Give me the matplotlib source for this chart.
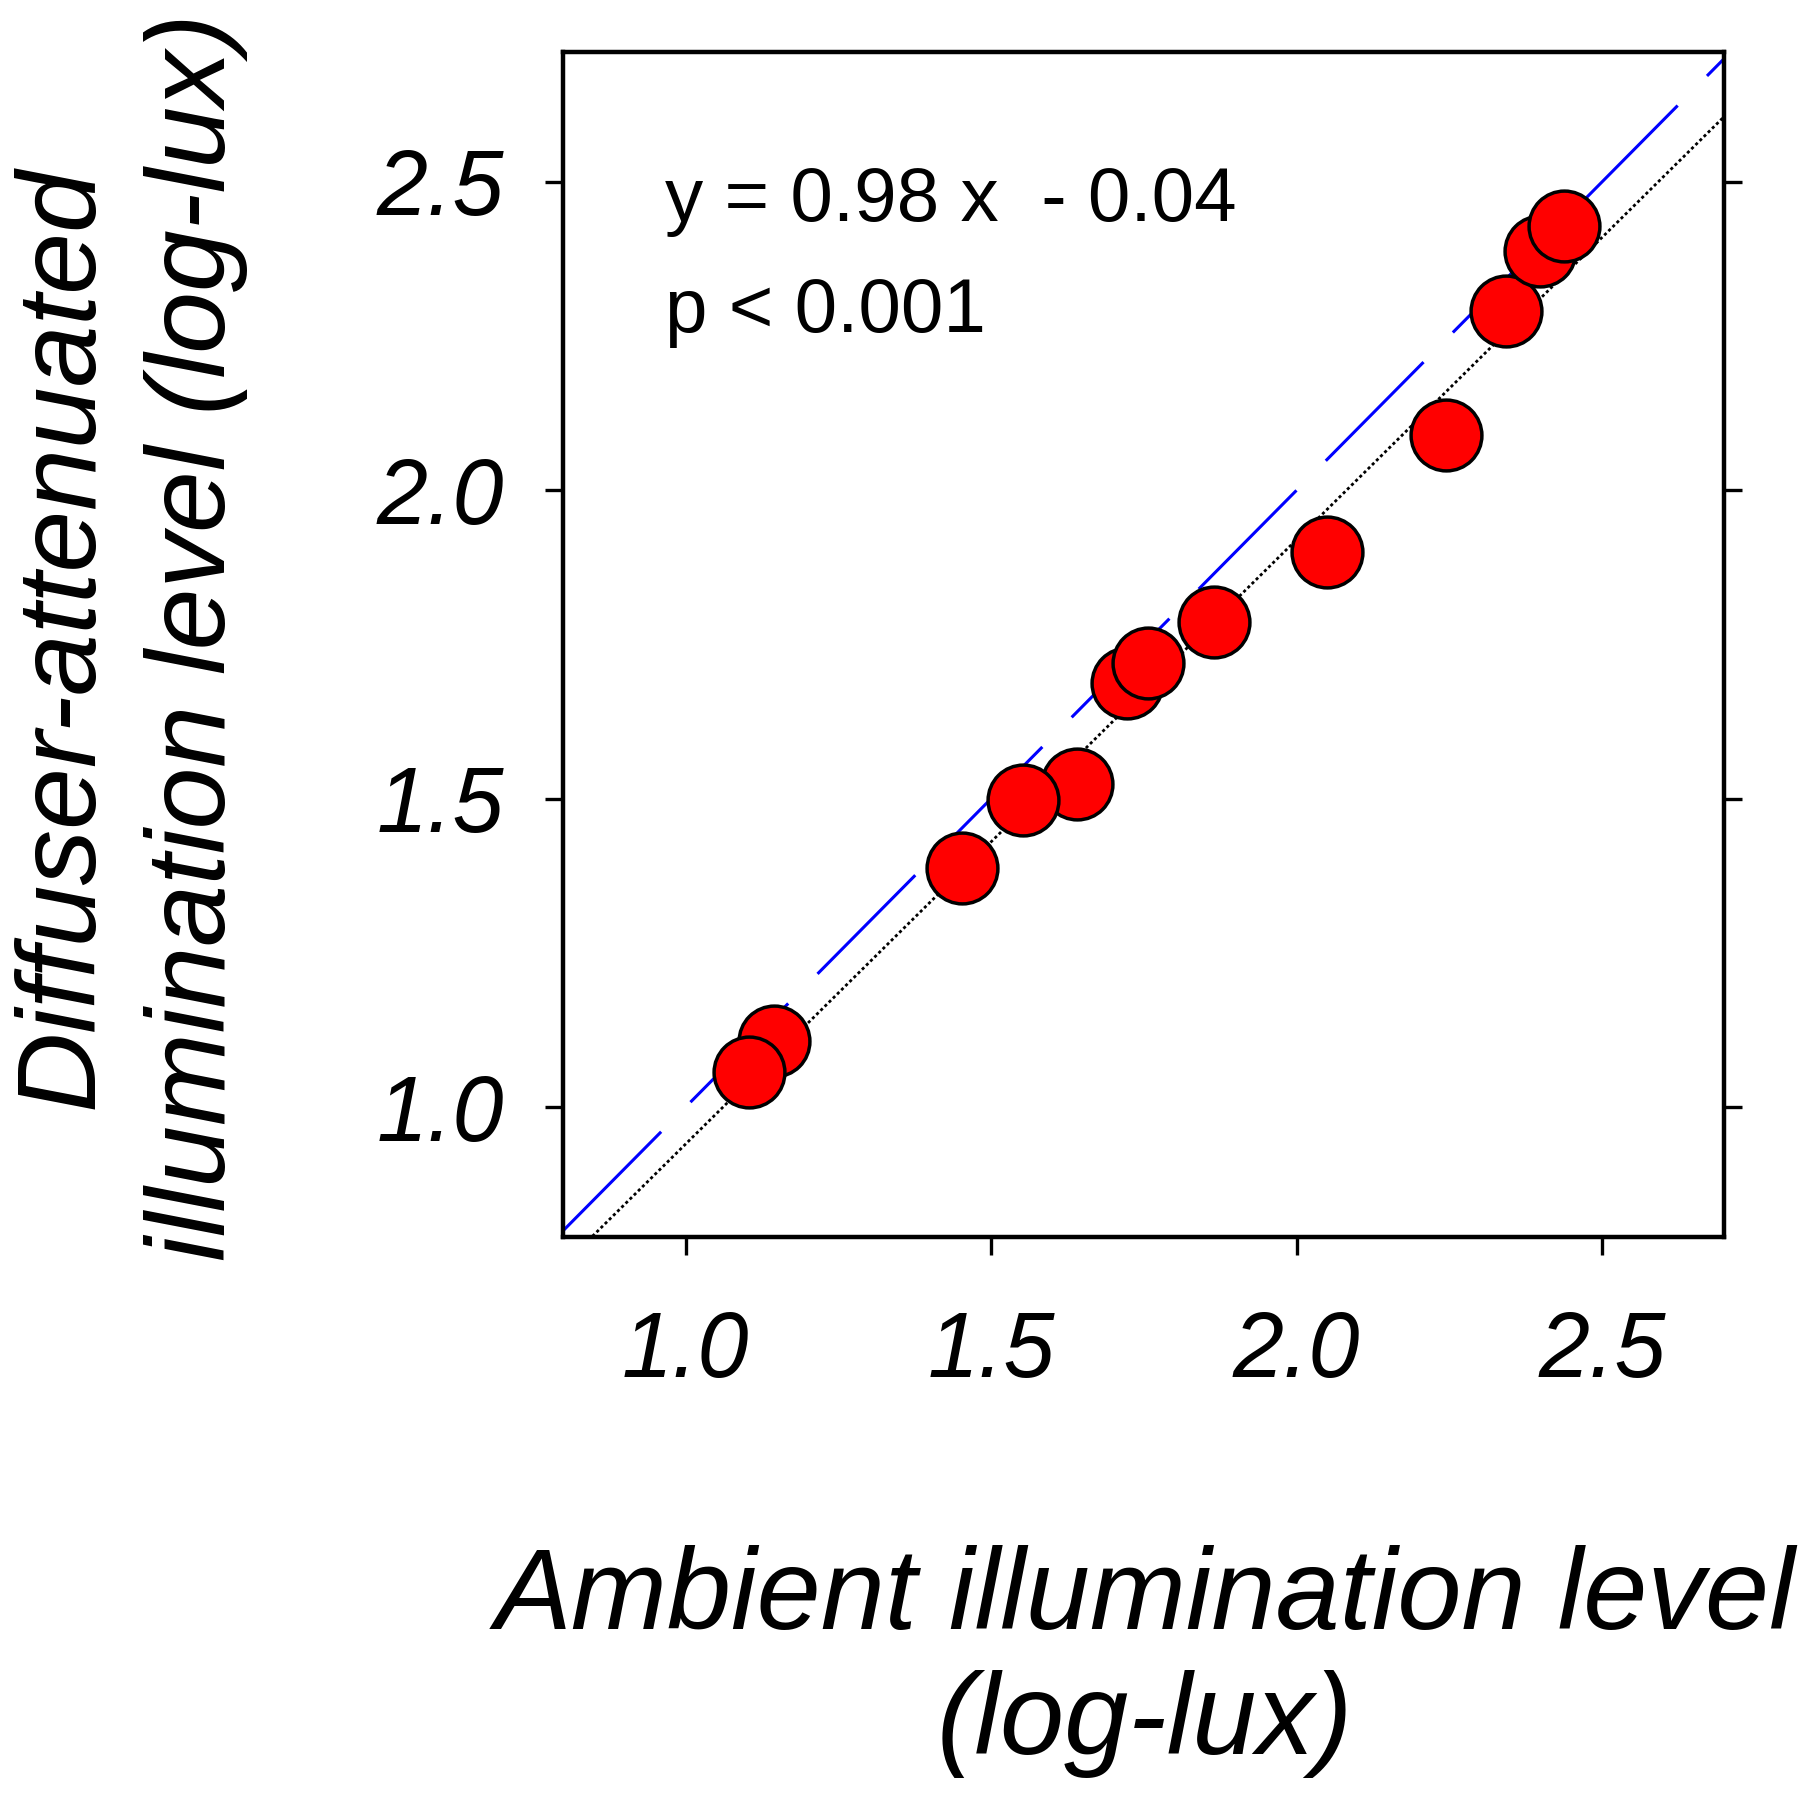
import matplotlib
matplotlib.use("Agg")
import matplotlib.pyplot as plt
import numpy as np

plt.rcParams['font.family'] = ['Liberation Sans', 'DejaVu Sans']
plt.rcParams['lines.scale_dashes'] = False

# Data
ambient = [1.145, 1.103, 1.453, 1.640, 1.552, 1.722, 1.756, 1.865, 2.049, 2.244, 2.342, 2.399, 2.438]
diffuser = [1.107, 1.057, 1.388, 1.523, 1.498, 1.688, 1.720, 1.786, 1.900, 2.089, 2.291, 2.388, 2.429]
slope = 0.98
intercept = -0.04
xlim = (0.8, 2.7)
ylim = (0.79, 2.71)
ticks = [1.0, 1.5, 2.0, 2.5]
tick_labels = ["1.0", "1.5", "2.0", "2.5"]
eq_text = "y = 0.98 x  - 0.04"
p_text = "p < 0.001"

fig = plt.figure(figsize=(18, 18), dpi=100)
ax = fig.add_axes([0.313, 0.313, 0.645, 0.658])

# identity line (blue, dashed)
ident = np.array(xlim)
ax.plot(ident, ident, color='blue', lw=2.2, dashes=(100, 30), zorder=1)
# regression line (black, dotted)
ax.plot(ident, slope * ident + intercept, color='black', lw=2.0, dashes=(2.2, 2.0), zorder=1)

ax.scatter(ambient, diffuser, s=2600, c='#ff0000', edgecolors='black', linewidths=2.5, zorder=3)

ax.set_xlim(*xlim)
ax.set_ylim(*ylim)
ax.set_xticks(ticks)
ax.set_xticklabels(tick_labels)
ax.set_yticks(ticks)
ax.set_yticklabels(tick_labels)

for sp in ax.spines.values():
    sp.set_linewidth(3.2)

ax.tick_params(axis='x', direction='out', length=13, width=2.4, pad=40,
               labelsize=66)
ax.tick_params(axis='y', direction='out', length=13, width=2.4, pad=30,
               labelsize=66, right=True)
for lab in ax.get_xticklabels() + ax.get_yticklabels():
    lab.set_fontstyle('italic')

ax.text(0.967, 2.468, eq_text, fontsize=55, va='center', ha='left')
ax.text(0.967, 2.288, p_text, fontsize=55, va='center', ha='left')

fig.text(0.072, 0.646, "Diffuser-attenuated\nillumination level (log-lux)",
         rotation=90, ha='center', va='center', fontsize=80, fontstyle='italic',
         linespacing=1.35, multialignment='center')
fig.text(0.636, 0.077, "Ambient illumination level\n(log-lux)",
         ha='center', va='center', fontsize=83, fontstyle='italic',
         linespacing=1.2, multialignment='center')

fig.savefig("out.png", dpi=100)
